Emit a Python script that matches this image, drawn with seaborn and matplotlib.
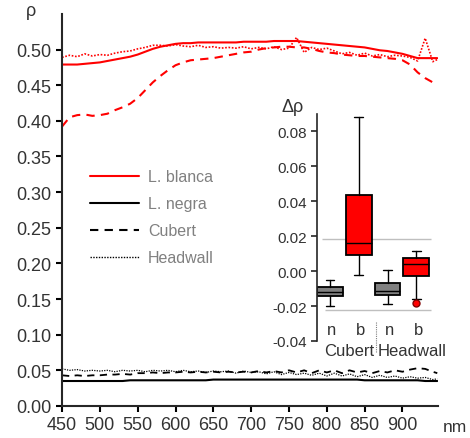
import numpy as np
import pandas as pd
import matplotlib
matplotlib.use("Agg")
import matplotlib.pyplot as plt
from matplotlib.lines import Line2D
import seaborn as sns

# wavelengths (nm)
wl = [450, 460, 470, 480, 490, 500, 510, 520, 530, 540, 550, 560, 570, 580, 590,
      600, 610, 620, 630, 640, 650, 660, 670, 680, 690, 700, 710, 720, 730, 740,
      750, 760, 770, 780, 790, 800, 810, 820, 830, 840, 850, 860, 870, 880, 890,
      900, 910, 920, 930, 940, 946]

blanca_ref = [.479, .479, .479, .480, .481, .482, .484, .486, .488, .490, .493, .497, .501, .504, .506,
              .508, .509, .509, .510, .510, .510, .510, .510, .510, .511, .511, .511, .511, .512, .512,
              .512, .512, .511, .510, .509, .508, .507, .506, .505, .504, .503, .501, .499, .498, .496,
              .494, .491, .488, .488, .488, .488]
blanca_cubert = [.392, .405, .408, .409, .407, .408, .410, .415, .419, .424, .432, .443, .454, .463, .471,
                 .478, .482, .485, .486, .487, .488, .490, .492, .494, .496, .497, .500, .502, .503, .504,
                 .504, .503, .503, .501, .498, .496, .495, .493, .492, .491, .491, .490, .489, .488, .487,
                 .485, .479, .468, .460, .454, .450]
blanca_headwall = [.489, .492, .490, .494, .491, .493, .492, .495, .497, .498, .501, .503, .506, .506, .505,
                   .507, .505, .504, .506, .503, .504, .502, .503, .502, .504, .501, .503, .501, .504, .500,
                   .502, .517, .496, .503, .500, .502, .498, .494, .496, .492, .495, .491, .493, .490, .492,
                   .491, .489, .484, .516, .483, .486]
negra_ref = [.035, .035, .035, .035, .035, .035, .035, .035, .035, .036, .036, .036, .036, .036, .036,
             .036, .036, .036, .036, .036, .037, .037, .037, .037, .037, .037, .037, .037, .037, .037,
             .037, .037, .037, .037, .037, .037, .037, .037, .037, .037, .036, .036, .036, .036, .036,
             .036, .036, .036, .035, .035, .035]
negra_cubert = [.043, .042, .043, .042, .043, .043, .044, .044, .045, .044, .046, .046, .047, .046, .047,
                .047, .048, .047, .048, .047, .048, .047, .048, .047, .048, .047, .049, .047, .049, .047,
                .050, .047, .050, .046, .050, .047, .050, .046, .050, .047, .049, .046, .049, .047, .050,
                .048, .051, .053, .052, .048, .046]
negra_headwall = [.052, .050, .051, .049, .050, .049, .050, .048, .050, .049, .050, .048, .050, .049, .050,
                  .048, .050, .048, .049, .047, .049, .048, .049, .046, .049, .047, .048, .045, .048, .044,
                  .047, .044, .046, .043, .046, .042, .046, .042, .045, .041, .044, .040, .043, .040, .042,
                  .039, .041, .039, .040, .037, .038]

# inset box stats: Cubert n, Cubert b, Headwall n, Headwall b
box_labels = ["n", "b", "n", "b"]
box_whislo = [-0.0198, -0.0023, -0.0189, -0.0160]
box_q1 = [-0.0141, 0.0091, -0.0137, -0.0029]
box_med = [-0.0122, 0.0164, -0.0112, 0.0040]
box_q3 = [-0.0090, 0.0434, -0.0069, 0.0074]
box_whishi = [-0.0051, 0.0882, 0.0004, 0.0116]
box_fliers = [[], [], [], [-0.0183]]
box_colors = ["#808080", "#ff0000", "#808080", "#ff0000"]
groups = ["Cubert", "Headwall"]
ref_levels = [0.0185, -0.0222]

sns.set_style("ticks")
plt.rcParams["font.family"] = ["Liberation Sans", "DejaVu Sans"]
txt = "#333333"

fig = plt.figure(figsize=(4.7, 4.39), dpi=100)
ax = fig.add_axes([0.132, 0.073, 0.800, 0.893])

series = [
    (blanca_ref, "red", "-", 1.5),
    (blanca_cubert, "red", (0, (4, 3)), 1.5),
    (blanca_headwall, "red", (0, (1, 1)), 1.2),
    (negra_ref, "black", "-", 1.5),
    (negra_cubert, "black", (0, (4, 3)), 1.3),
    (negra_headwall, "black", (0, (1, 1)), 0.9),
]
for vals, col, ls, lw in series:
    df = pd.DataFrame({"nm": wl, "rho": vals})
    sns.lineplot(data=df, x="nm", y="rho", ax=ax, color=col, linestyle=ls, lw=lw)

ax.set_xlim(450, 947)
ax.set_ylim(0, 0.55)
ax.set_xticks(np.arange(450, 901, 50))
ax.set_yticks(np.arange(0, 0.51, 0.05))
ax.set_yticklabels([f"{v:.2f}" for v in np.arange(0, 0.51, 0.05)])
ax.set_xlabel("")
ax.set_ylabel("")
for s in ["top", "right"]:
    ax.spines[s].set_visible(False)
for s in ["left", "bottom"]:
    ax.spines[s].set_linewidth(1.5)
ax.tick_params(width=1.5, length=4, labelsize=13, color="black", labelcolor=txt)
fig.text(0.065, 0.973, "ρ", fontsize=13, ha="center", va="center", color=txt)
fig.text(0.968, 0.027, "nm", fontsize=12.5, ha="center", va="center", color=txt)

handles = [Line2D([], [], color="red", lw=1.5),
           Line2D([], [], color="black", lw=1.5),
           Line2D([], [], color="black", lw=1.5, ls=(0, (4, 3))),
           Line2D([], [], color="black", lw=1.0, ls=(0, (1, 1)))]
leg = ax.legend(handles, ["L. blanca", "L. negra", "Cubert", "Headwall"],
                loc="upper left", bbox_to_anchor=(0.035, 0.64), frameon=False,
                handlelength=3.1, labelspacing=0.75, handletextpad=0.55, fontsize=11.5)
for t in leg.get_texts():
    t.set_color("#808080")

# inset
ins = fig.add_axes([0.6745, 0.221, 0.245, 0.517])
stats = []
for i in range(4):
    stats.append(dict(label=box_labels[i], whislo=box_whislo[i], q1=box_q1[i], med=box_med[i],
                      q3=box_q3[i], whishi=box_whishi[i], fliers=box_fliers[i]))
bp = ins.bxp(stats, positions=[1, 2, 3, 4], widths=0.9, patch_artist=True,
             boxprops=dict(edgecolor="black", linewidth=1.3),
             medianprops=dict(color="black", linewidth=1.0),
             whiskerprops=dict(color="black", linewidth=1.0),
             capprops=dict(color="black", linewidth=1.0),
             flierprops=dict(marker="o", markerfacecolor="red", markeredgecolor="#800000",
                             markersize=5), capwidths=0.3)
for patch, c in zip(bp["boxes"], box_colors):
    patch.set_facecolor(c)
ins.hlines(ref_levels[0], 0.72, 4.52, color="#bfbfbf", lw=1.0, zorder=0)
ins.hlines(ref_levels[1], 0.82, 4.52, color="#bfbfbf", lw=1.0, zorder=0)
ins.set_xlim(0.55, 4.55)
ins.set_ylim(-0.04, 0.09)
ins.set_yticks(np.arange(-0.04, 0.081, 0.02))
ins.set_yticklabels([f"{v:.2f}" for v in np.arange(-0.04, 0.081, 0.02)])
ins.set_xticks([])
ins.patch.set_alpha(0)
for s in ["top", "right", "bottom"]:
    ins.spines[s].set_visible(False)
ins.spines["left"].set_linewidth(1.2)
ins.tick_params(axis="y", width=1.2, length=4, labelsize=11, labelcolor=txt)
for i, lab in enumerate(box_labels):
    ins.text(i + 1.07, -0.0337, lab, ha="center", va="center", fontsize=12, color=txt)
ins.text(2.54, -0.0457, groups[0], ha="right", va="center", fontsize=12, color=txt)
ins.text(2.66, -0.0457, groups[1], ha="left", va="center", fontsize=12, color=txt)
ins.axvline(2.6, ymin=-0.05, ymax=0.088, color="#808080", lw=0.8, ls=(0, (1, 1)), clip_on=False)
ins.text(-0.29, 0.0945, "Δρ", ha="center", va="center", fontsize=13, color=txt)

fig.savefig("out.png", dpi=100)
